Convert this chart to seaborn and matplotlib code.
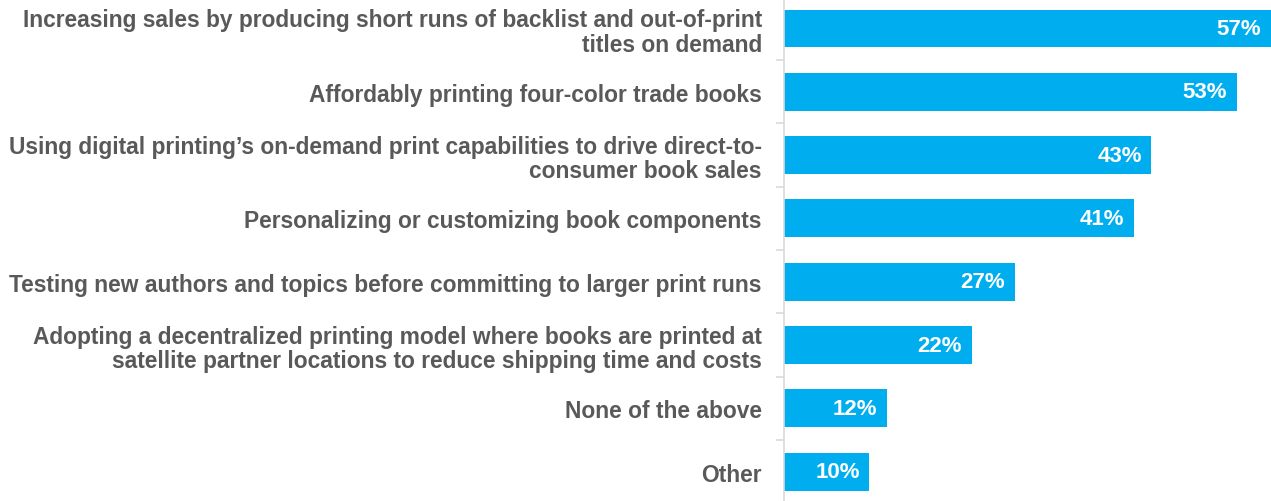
import matplotlib
matplotlib.use("Agg")
import matplotlib.pyplot as plt
import seaborn as sns
import pandas as pd

categories = [
    "Increasing sales by producing short runs of backlist and out-of-print\ntitles on demand",
    "Affordably printing four-color trade books",
    "Using digital printing\u2019s on-demand print capabilities to drive direct-to-\nconsumer book sales",
    "Personalizing or customizing book components",
    "Testing new authors and topics before committing to larger print runs",
    "Adopting a decentralized printing model where books are printed at\nsatellite partner locations to reduce shipping time and costs",
    "None of the above",
    "Other",
]
values = [57, 53, 43, 41, 27, 22, 12, 10]

sns.set_theme(style="white")
plt.rcParams["font.family"] = ["Liberation Sans", "DejaVu Sans"]

df = pd.DataFrame({"category": categories, "value": values})

W, H = 1271, 502
fig = plt.figure(figsize=(W / 100, H / 100), dpi=100)
ax = fig.add_axes([784 / W, 0, (W - 784) / W, 1])

sns.barplot(data=df, x="value", y="category", orient="h", color="#00AEEF",
            saturation=1, width=0.6, ax=ax, linewidth=0)

ax.set_xlim(0, 57)
ax.set_ylim(7.464, -0.466)
ax.set_xlabel("")
ax.set_ylabel("")
ax.set_xticks([])

for s in ["top", "right", "bottom"]:
    ax.spines[s].set_visible(False)
ax.spines["left"].set_color("#D9D9D9")
ax.spines["left"].set_linewidth(1.2)

ax.tick_params(axis="y", which="major", length=0, pad=16,
               labelsize=16.4, labelcolor="#595959")
for lbl in ax.get_yticklabels():
    lbl.set_fontweight("bold")
    lbl.set_horizontalalignment("right")
    lbl.set_linespacing(1.1)

ax.set_yticks([i + 0.5 for i in range(len(values) - 1)], minor=True)
ax.tick_params(axis="y", which="minor", length=6, width=1.2, color="#D9D9D9",
               left=True)

for i, v in enumerate(values):
    ax.annotate(f"{v}%", xy=(v, i), xytext=(-7, 0), textcoords="offset points",
                ha="right", va="center", color="white", fontsize=16,
                fontweight="bold")

fig.savefig("out.png", dpi=100)
